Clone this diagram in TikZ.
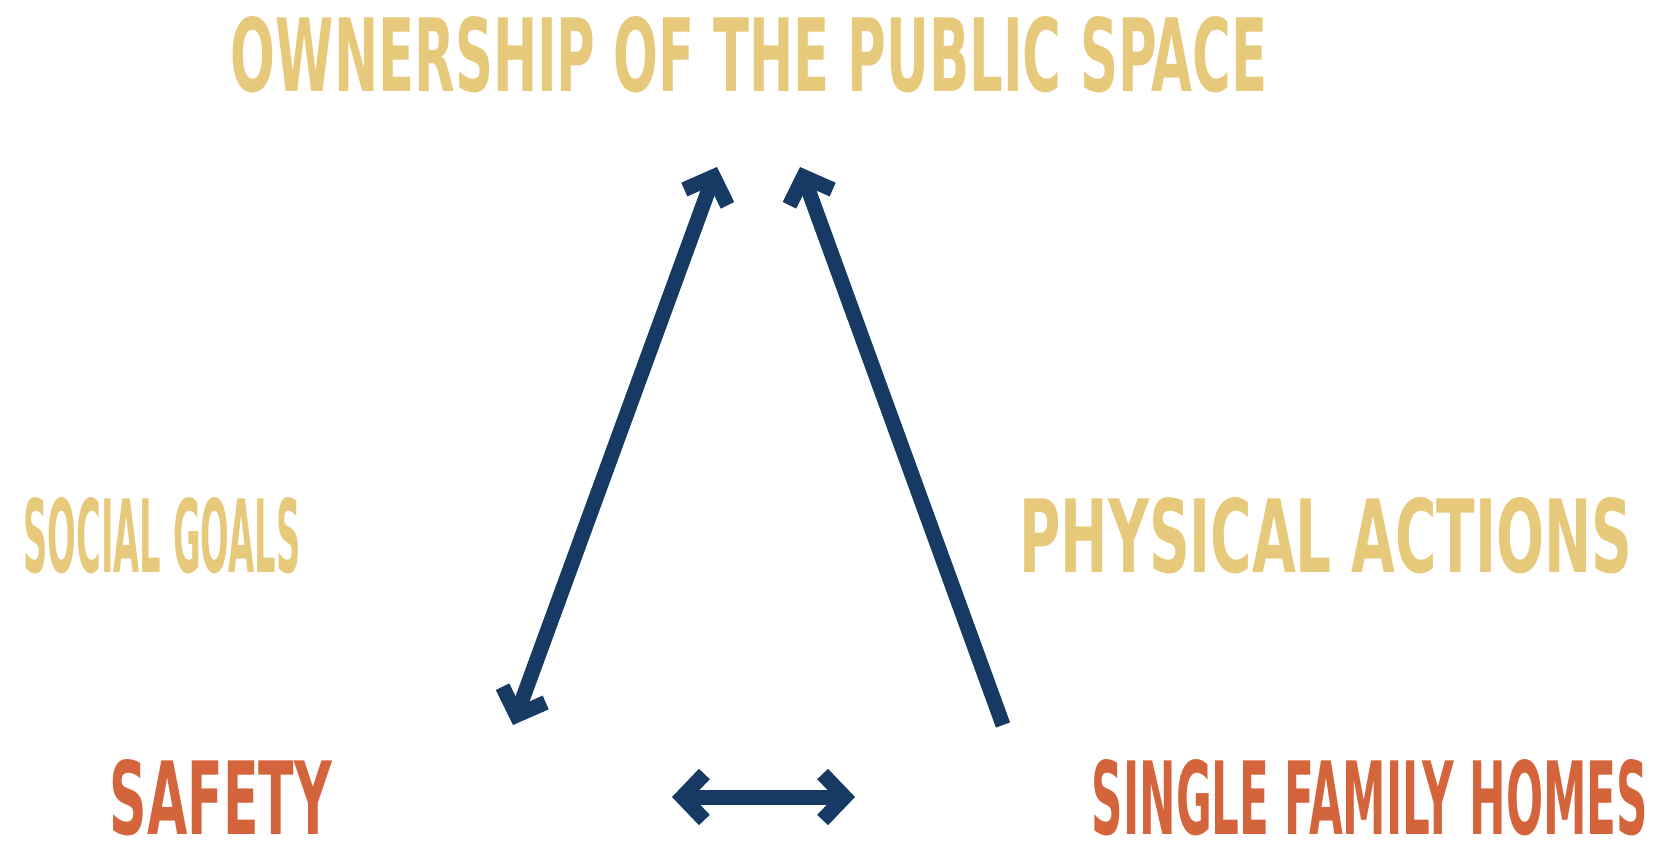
\documentclass[tikz,border=0pt]{standalone}
\usepackage{fontspec}
\usepackage{graphicx}
\usepackage{tikz}
\usetikzlibrary{arrows.meta}
\setmainfont{DejaVu Sans Condensed}
\definecolor{Navy}{HTML}{163A64}
\definecolor{Gold}{HTML}{E7C97C}
\definecolor{Rust}{HTML}{D4643C}
\newcommand{\tallcaps}[2]{\resizebox{#1}{37.5pt}{\bfseries #2}}

\begin{document}
\begin{tikzpicture}[
  x=0.5pt,y=-0.5pt,
  label/.style={inner sep=0pt,outer sep=0pt,anchor=center},
  goal/.style={label,text=Gold},
  place/.style={label,text=Rust},
  arr/.style={{Straight Barb[sharp,length=11pt,width=23pt]}-{Straight Barb[sharp,length=11pt,width=23pt]},draw=Navy,line width=7.5pt},
  oneway/.style={-{Straight Barb[sharp,length=11pt,width=23pt]},draw=Navy,line width=7.5pt}
]
\useasboundingbox (0,0) rectangle (1662,843);
\node[goal] (own) at (749,55) {\tallcaps{518pt}{OWNERSHIP OF THE PUBLIC SPACE}};
\node[goal] (social) at (162,536) {\tallcaps{138.5pt}{SOCIAL GOALS}};
\node[goal] (physical) at (1326,536) {\tallcaps{306.5pt}{PHYSICAL ACTIONS}};
\node[place] (safety) at (221,798) {\tallcaps{111pt}{SAFETY}};
\node[place] (homes) at (1370,798) {\tallcaps{278pt}{SINGLE FAMILY HOMES}};
\coordinate (ownL) at (717,167);
\coordinate (ownR) at (800,167);
\coordinate (safeT) at (513,725);
\coordinate (safeR) at (672,797);
\coordinate (homesT) at (1003,725);
\coordinate (homesL) at (855,797);
\draw[arr] (ownL)--(safeT); \draw[oneway] (homesT)--(ownR); \draw[arr] (safeR)--(homesL);
\end{tikzpicture}
\end{document}
